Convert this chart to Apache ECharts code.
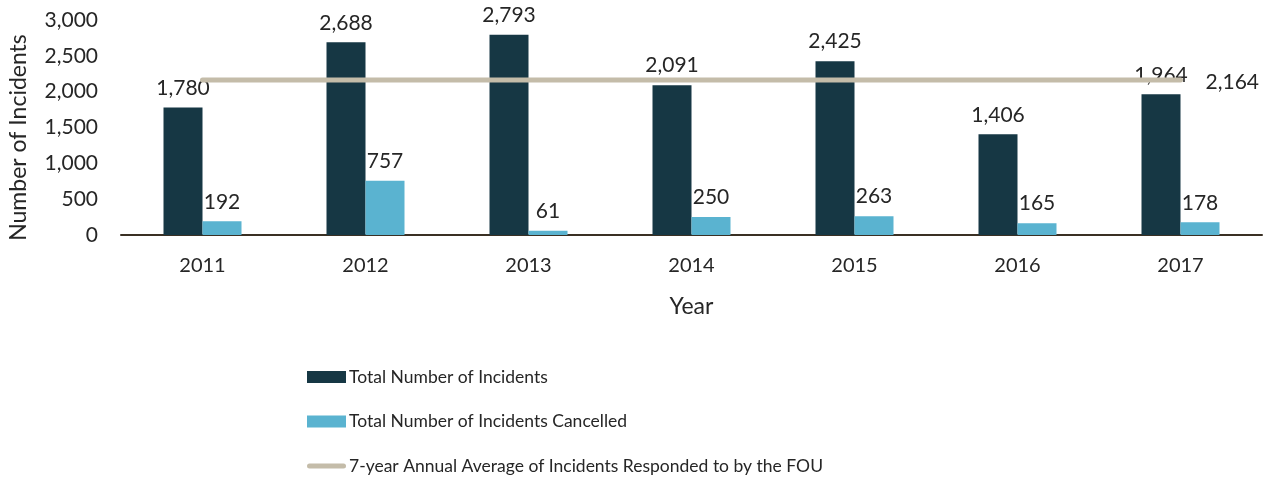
<!DOCTYPE html>
<html>
<head>
<meta charset="utf-8">
<script src="https://cdn.jsdelivr.net/npm/echarts@6/dist/echarts.min.js"></script>
<style>
  html, body { margin: 0; padding: 0; background: #fff; }
  #chart { width: 1265px; height: 480px; }
</style>
</head>
<body>
<div id="chart"></div>
<script>
// Incident counts by year
const years = ['2011', '2012', '2013', '2014', '2015', '2016', '2017'];
const totalIncidents = [1780, 2688, 2793, 2091, 2425, 1406, 1964];
const cancelledIncidents = [192, 757, 61, 250, 263, 165, 178];
const annualAverage = [2164, 2164, 2164, 2164, 2164, 2164, 2164];
const yTicks = [0, 500, 1000, 1500, 2000, 2500, 3000];

const FONT = 'Lato';
const TEXT = '#262626';
const fmt = v => Number(v).toLocaleString('en-US');

// thick rounded stroke used as the legend swatch for the average line
const LINE_ICON = 'path://M2.5,0 L36.5,0 A2.5,2.5 0 0 1 36.5,5 L2.5,5 A2.5,2.5 0 0 1 2.5,0 Z';

const chart = echarts.init(document.getElementById('chart'));
chart.setOption({
  animation: false,
  textStyle: { fontFamily: FONT, color: TEXT },
  grid: { left: 121, right: 3, top: 20, bottom: 245, containLabel: false, outerBoundsMode: 'none' },
  legend: {
    orient: 'vertical',
    left: 302,
    top: 362,
    height: 120,
    itemWidth: 39,
    itemHeight: 12,
    itemGap: 24.5,
    textStyle: { fontFamily: FONT, fontSize: 17.5, lineHeight: 20, color: TEXT, padding: [0, 0, 0, -2] },
    data: [
      { name: 'Total Number of Incidents', icon: 'rect' },
      { name: 'Total Number of Incidents Cancelled', icon: 'rect' },
      { name: '7-year Annual Average of Incidents Responded to by the FOU', icon: LINE_ICON }
    ]
  },
  xAxis: {
    type: 'category',
    data: years,
    name: 'Year',
    nameLocation: 'middle',
    nameGap: 60,
    nameTextStyle: { fontFamily: FONT, fontSize: 23, color: TEXT },
    axisLine: { lineStyle: { color: '#3a3024', width: 2 } },
    axisTick: { show: false },
    axisLabel: { fontFamily: FONT, fontSize: 20, color: TEXT, margin: 21 }
  },
  yAxis: {
    type: 'value',
    min: yTicks[0],
    max: yTicks[yTicks.length - 1],
    interval: yTicks[1] - yTicks[0],
    name: 'Number of Incidents',
    nameLocation: 'middle',
    nameGap: 91,
    nameTextStyle: { fontFamily: FONT, fontSize: 23, color: TEXT, padding: [0, 20, 0, 0] },
    axisLine: { show: false },
    axisTick: { show: false },
    splitLine: { show: false },
    axisLabel: { fontFamily: FONT, fontSize: 21, color: TEXT, margin: 23, formatter: fmt }
  },
  series: [
    {
      name: 'Total Number of Incidents',
      type: 'bar',
      data: totalIncidents,
      barWidth: 39,
      barGap: '0%',
      itemStyle: { color: '#163744' },
      label: { show: true, position: 'top', distance: 9, fontFamily: FONT, fontSize: 21, color: TEXT, formatter: p => fmt(p.value) }
    },
    {
      name: 'Total Number of Incidents Cancelled',
      type: 'bar',
      data: cancelledIncidents,
      barWidth: 39,
      itemStyle: { color: '#5AB3D0' },
      label: { show: true, position: 'top', distance: 9, fontFamily: FONT, fontSize: 21, color: TEXT, formatter: p => fmt(p.value) }
    },
    {
      name: '7-year Annual Average of Incidents Responded to by the FOU',
      type: 'line',
      data: annualAverage,
      symbol: 'none',
      z: 5,
      lineStyle: { color: '#C4BCA9', width: 5, cap: 'round' },
      itemStyle: { color: '#C4BCA9' },
      endLabel: {
        show: true,
        distance: 25,
        offset: [0, 2],
        fontFamily: FONT,
        fontSize: 21,
        color: TEXT,
        formatter: p => fmt(p.value)
      }
    }
  ]
});
</script>
</body>
</html>
